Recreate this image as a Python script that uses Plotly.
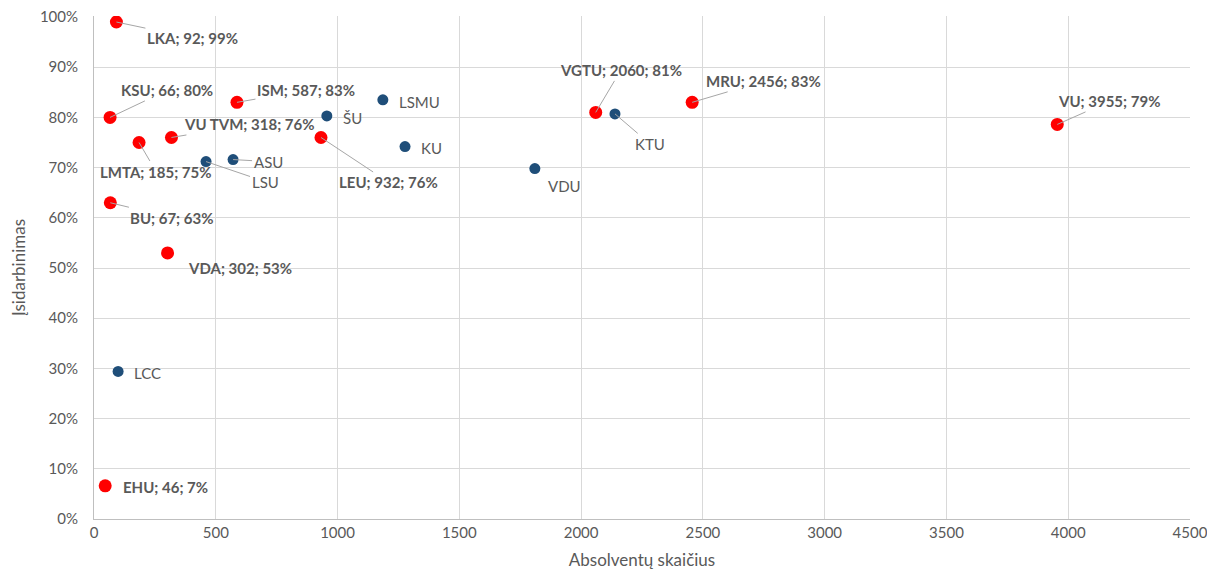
import plotly.graph_objects as go

# Red (labelled with value) institutions
red_names = ["LKA", "KSU", "ISM", "VU TVM", "LMTA", "LEU", "BU", "VDA", "EHU", "VGTU", "MRU", "VU"]
red_x = [92, 66, 587, 318, 185, 932, 67, 302, 46, 2060, 2456, 3955]
red_y = [0.99, 0.80, 0.83, 0.76, 0.75, 0.76, 0.63, 0.53, 0.066, 0.81, 0.83, 0.786]

# Blue institutions
blue_names = ["LSU", "ASU", "ŠU", "LSMU", "KU", "VDU", "KTU", "LCC"]
blue_x = [460, 571, 956, 1186, 1277, 1810, 2139, 99]
blue_y = [0.712, 0.716, 0.803, 0.835, 0.742, 0.698, 0.807, 0.294]

x_ticks = [0, 500, 1000, 1500, 2000, 2500, 3000, 3500, 4000, 4500]
y_ticks = [0, 0.1, 0.2, 0.3, 0.4, 0.5, 0.6, 0.7, 0.8, 0.9, 1.0]
y_tick_text = ["0%", "10%", "20%", "30%", "40%", "50%", "60%", "70%", "80%", "90%", "100%"]

# label placement: (dx, dy in px, draw leader line)
red_place = {
    "LKA": (76, 16, True), "KSU": (57, -27, True), "ISM": (69, -12, True),
    "VU TVM": (78, -13, True), "LMTA": (17, 29, True), "LEU": (68, 45, True),
    "BU": (62, 15, True), "VDA": (72, 15, False), "EHU": (60, 1, False),
    "VGTU": (25, -42, True), "MRU": (71, -21, True), "VU": (52, -23, True),
}
blue_place = {
    "LSU": (59, 20, True), "ASU": (35, 2, True), "ŠU": (26, 2, False),
    "LSMU": (37, 2, False), "KU": (26, 1, False), "VDU": (30, 17, False),
    "KTU": (35, 30, True), "LCC": (29, 2, False),
}

FONT = "Lato"
GRAY = "#595959"

fig = go.Figure()
fig.add_trace(go.Scatter(x=blue_x, y=blue_y, mode="markers",
                         marker=dict(color="#1F4E79", size=11), hoverinfo="skip"))
fig.add_trace(go.Scatter(x=red_x, y=red_y, mode="markers",
                         marker=dict(color="#FF0000", size=13), hoverinfo="skip"))

annotations = []

def add_label(x, y, text, place, bold):
    dx, dy, line = place
    txt = f"<b>{text}</b>" if bold else text
    base = dict(x=x, y=y, xref="x", yref="y", text=txt,
                font=dict(family=FONT, size=15, color=GRAY))
    if line:
        base.update(showarrow=True, ax=dx, ay=dy, arrowhead=0, arrowwidth=1,
                    arrowcolor="#A6A6A6", standoff=0, startstandoff=0)
    else:
        base.update(showarrow=False, xshift=dx, yshift=-dy, xanchor="center", yanchor="middle")
    annotations.append(base)

for n, x, y in zip(red_names, red_x, red_y):
    add_label(x, y, f"{n}; {x}; {round(y*100):.0f}%", red_place[n], True)
for n, x, y in zip(blue_names, blue_x, blue_y):
    add_label(x, y, n, blue_place[n], False)

fig.update_layout(
    width=1207, height=571,
    margin=dict(l=86, r=25, t=8, b=60, autoexpand=False),
    paper_bgcolor="white", plot_bgcolor="white",
    showlegend=False,
    font=dict(family=FONT, size=15, color=GRAY),
    annotations=annotations,
    xaxis=dict(range=[0, 4500], tickvals=x_ticks, showgrid=True, gridcolor="#D9D9D9",
               zeroline=False, showline=True, linecolor="#BFBFBF", ticks="", automargin=False,
               ticklabeloverflow="allow",
               tickfont=dict(family=FONT, size=15, color=GRAY),
               title=dict(text="Absolventų skaičius", font=dict(family=FONT, size=17, color=GRAY), standoff=14)),
    yaxis=dict(range=[0, 1.002], tickvals=y_ticks, ticktext=y_tick_text, showgrid=True, gridcolor="#D9D9D9",
               zeroline=False, showline=True, linecolor="#BFBFBF", ticks="", automargin=False,
               ticklabelstandoff=12, ticklabeloverflow="allow",
               tickfont=dict(family=FONT, size=15, color=GRAY),
               title=dict(text="Įsidarbinimas", font=dict(family=FONT, size=17, color=GRAY), standoff=12)),
)

fig.write_html("out.html")
